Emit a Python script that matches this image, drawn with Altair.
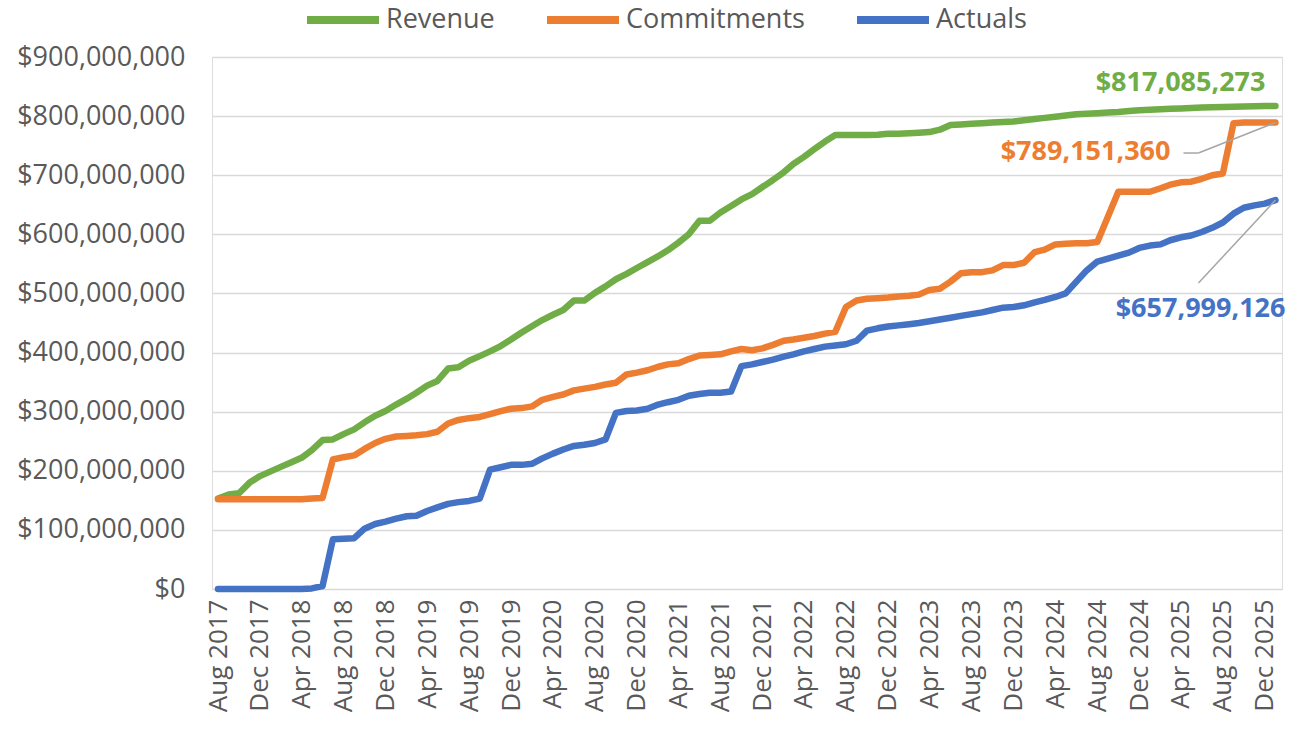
import altair as alt
import pandas as pd

# Monthly series, Aug 2017 .. Jan 2026 (values in millions of dollars)
REVENUE = [
    153, 160, 162, 180, 191, 199, 207, 214, 222, 235,
    252, 253, 262, 270, 282, 293, 301, 312, 322, 332,
    344, 352, 373, 375, 386, 394, 402, 411, 422, 434,
    445, 455, 464, 472, 488, 488, 501, 512, 524, 533,
    543, 553, 563, 573, 586, 600, 623, 623, 637, 648,
    659, 668, 680, 692, 705, 719, 731, 744, 757, 768,
    768, 768, 768, 768.5, 770, 770, 771, 772, 773, 777,
    785, 786, 787, 788, 789, 790, 791, 793, 795, 797,
    799, 801, 803, 804, 805, 806, 807, 808.5, 810, 810.8,
    811.5, 812.3, 813, 813.7, 814.4, 815, 815.5, 816, 816.4, 816.7,
    817, 817.085273,
]
COMMITMENTS = [
    152, 152, 152, 152, 152, 152, 152, 152, 152, 153,
    154, 219, 223, 226, 237, 247, 254, 258, 259, 260,
    262, 266, 280, 286, 289, 291, 296, 301, 305, 306,
    309, 320, 325, 329, 336, 339, 342, 346, 349, 363,
    366, 370, 376, 380, 382, 389, 395, 396, 397, 402,
    406, 404, 407, 413, 420, 422, 425, 428, 432, 435,
    477, 488, 491, 492, 493, 495, 496, 498, 506, 508,
    520, 534, 536, 536, 539, 548, 548, 552, 570, 574,
    583, 584, 585, 585, 587, 630, 672, 672, 672, 672,
    678, 684, 688, 689, 694, 700, 703, 788, 789, 789,
    789, 789.15136,
]
ACTUALS = [
    0, 0, 0, 0, 0, 0, 0, 0, 0, 1,
    5, 84, 85, 86, 102, 110, 114, 119, 123, 124,
    132, 138, 144, 147, 149, 153, 202, 206, 210, 210,
    212, 221, 229, 236, 242, 244, 247, 253, 298, 301,
    302, 305, 312, 316, 320, 327, 330, 332, 332, 334,
    377, 380, 384, 388, 393, 397, 402, 406, 410, 412,
    414, 420, 437, 441, 444, 446, 448, 450, 453, 456,
    459, 462, 465, 468, 472, 476, 477, 480, 485, 489,
    494, 500, 520, 539, 554, 559, 564, 569, 577, 581,
    583, 590, 595, 598, 604, 611, 620, 635, 645, 649,
    652, 657.999126,
]
SERIES = ["Revenue", "Commitments", "Actuals"]
COLORS = ["#70AD47", "#ED7D31", "#4472C4"]
MONTHS = pd.date_range("2017-08-01", periods=len(REVENUE), freq="MS")
TICKS = pd.date_range("2017-08-01", "2025-12-01", freq="4MS")
Y_TICKS = [0, 100e6, 200e6, 300e6, 400e6, 500e6, 600e6, 700e6, 800e6, 900e6]

rows = []
for name, vals in zip(SERIES, [REVENUE, COMMITMENTS, ACTUALS]):
    for d, v in zip(MONTHS, vals):
        rows.append({"month": d.strftime("%Y-%m-%dT00:00:00"), "series": name,
                     "value": round(v * 1e6)})
df = pd.DataFrame(rows)
last = df[df["month"] == df["month"].max()]

FONT = "Open Sans"
x_enc = alt.X(
    "month:T",
    scale=alt.Scale(domain=[alt.DateTime(year=2017, month=7, date=14, hours=12),
                            alt.DateTime(year=2026, month=1, date=20)]),
    axis=alt.Axis(
        values=[alt.DateTime(year=t.year, month=t.month, date=1) for t in TICKS],
        format="%b %Y", labelAngle=270, labelFontSize=26, labelColor="#595959",
        labelFont=FONT, labelPadding=10, labelFlush=False, labelOverlap=False,
        ticks=False, domain=False, grid=False, title=None,
    ),
)
y_enc = alt.Y(
    "value:Q",
    scale=alt.Scale(domain=[0, 900e6], nice=False),
    axis=alt.Axis(
        values=Y_TICKS, format="$,.0f", labelFontSize=27, labelColor="#595959",
        labelFont=FONT, labelPadding=27, ticks=False, domain=False,
        gridColor="#d9d9d9", gridWidth=1.3, title=None,
    ),
)
color_enc = alt.Color(
    "series:N",
    scale=alt.Scale(domain=SERIES, range=COLORS),
    legend=alt.Legend(
        title=None, orient="none", direction="horizontal", legendX=91, legendY=-77,
        symbolType="stroke", symbolSize=5184, symbolStrokeWidth=8,
        labelFontSize=27, labelFont=FONT, labelColor="#595959", labelOffset=3,
        labelLimit=0, columnPadding=36,
    ),
)

base = alt.Chart(df)
lines = [
    base.transform_filter(alt.datum.series == s).mark_line(
        strokeWidth=6.5, strokeCap="round", strokeJoin="round"
    ).encode(x=x_enc, y=y_enc, color=color_enc)
    for s in SERIES
]

lb = alt.Chart(last)
def label(s, color, dx, dy, align):
    return lb.transform_filter(alt.datum.series == s).mark_text(
        align=align, baseline="middle", dx=dx, dy=dy, fontSize=27,
        fontWeight="bold", font=FONT, color=color,
    ).encode(x="month:T", y="value:Q", text=alt.Text("value:Q", format="$,.0f"))

def leader(s, x1o, y1o, x2o, y2o):
    return lb.transform_filter(alt.datum.series == s).mark_rule(
        color="#a6a6a6", strokeWidth=1.5, xOffset=x1o, yOffset=y1o,
        x2Offset=x2o, y2Offset=y2o,
    ).encode(x="month:T", y="value:Q", x2="month:T", y2="value:Q")

annotations = [
    leader("Commitments", 0, 0, -77, 30.5),
    leader("Commitments", -77, 30.5, -92, 30.5),
    leader("Actuals", 0, 0, -77, 83),
    label("Revenue", COLORS[0], -10, -23, "right"),
    label("Commitments", COLORS[1], -105, 29.5, "right"),
    label("Actuals", COLORS[2], 10, 109, "right"),
]

chart = alt.layer(*lines, *annotations).properties(
    width=1070, height=532,
    autosize=alt.AutoSizeParams(type="none"),
    padding={"left": 212, "top": 57, "right": 9, "bottom": 141},
).configure_view(stroke=None).configure(background="white")

chart.save("out.html", embed_options={"renderer": "svg", "actions": False})
